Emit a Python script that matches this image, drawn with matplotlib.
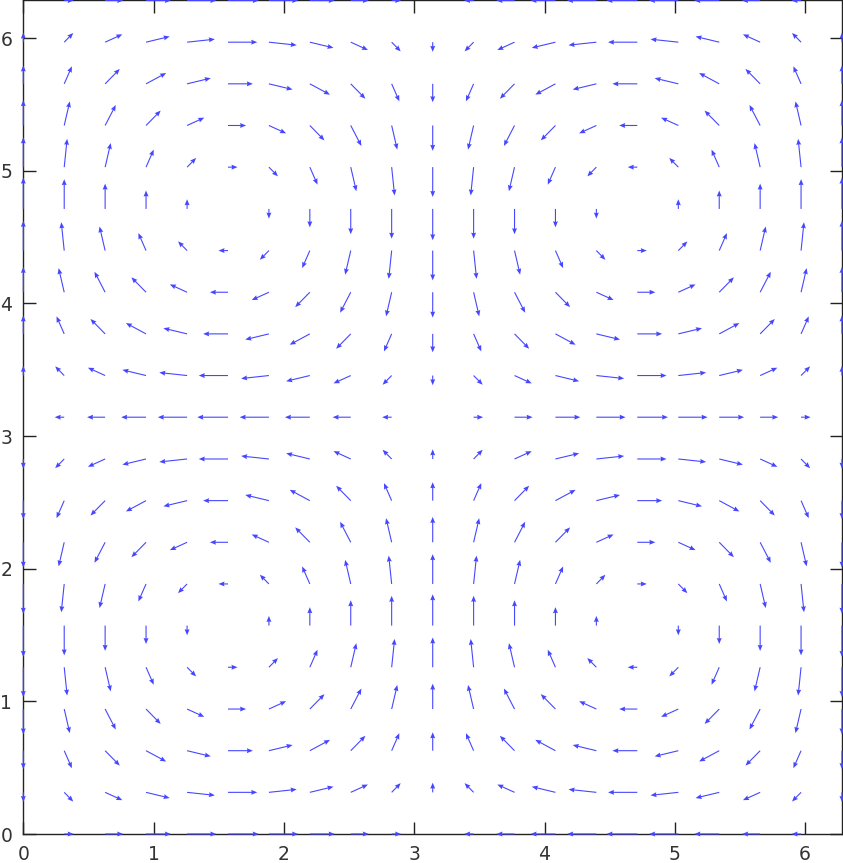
import matplotlib
matplotlib.use("Agg")
import matplotlib.pyplot as plt
import numpy as np

# grid positions (k*pi/10, k = 0..20), same on both axes
grid = [0.000, 0.314, 0.628, 0.942, 1.257, 1.571, 1.885, 2.199, 2.513, 2.827,
        3.142, 3.456, 3.770, 4.084, 4.398, 4.712, 5.027, 5.341, 5.655, 5.969, 6.283]
# field factors read along the grid: u = s(x)*c(y), v = -c(x)*s(y)
s_fac = [0.000, 0.309, 0.588, 0.809, 0.951, 1.000, 0.951, 0.809, 0.588, 0.309,
         0.000, -0.309, -0.588, -0.809, -0.951, -1.000, -0.951, -0.809, -0.588, -0.309, 0.000]
c_fac = [1.000, 0.951, 0.809, 0.588, 0.309, 0.000, -0.309, -0.588, -0.809, -0.951,
         -1.000, -0.951, -0.809, -0.588, -0.309, 0.000, 0.309, 0.588, 0.809, 0.951, 1.000]
ticks = [0, 1, 2, 3, 4, 5, 6]

X, Y = np.meshgrid(grid, grid)
U = np.outer(c_fac, s_fac)
V = -np.outer(s_fac, c_fac)

fig = plt.figure(figsize=(8.43, 8.63), dpi=100)
ax = fig.add_axes([23.3 / 843, 29 / 863, 818.7 / 843, 833.5 / 863])

arrow_len = 0.236  # data units for a unit vector
ax.quiver(X, Y, U, V, angles="xy", scale_units="xy", scale=1 / arrow_len,
          units="dots", width=1.1, headwidth=4.5, headlength=5.5,
          headaxislength=5, minlength=0.01, minshaft=0.5,
          color="#4646ff", zorder=3, clip_on=False)

ax.set_xlim(0, 2 * np.pi)
ax.set_ylim(0, 2 * np.pi)
ax.set_xticks(ticks)
ax.set_yticks(ticks)
ax.tick_params(direction="in", length=9, width=1, top=True, right=True,
               labelsize=13.5, pad=8, colors="#222222", labelcolor="#333333")
for lab in ax.get_xticklabels() + ax.get_yticklabels():
    lab.set_fontfamily("DejaVu Sans")
for sp in ax.spines.values():
    sp.set_linewidth(1)
    sp.set_color("#222222")

fig.savefig("out.png", dpi=100)
